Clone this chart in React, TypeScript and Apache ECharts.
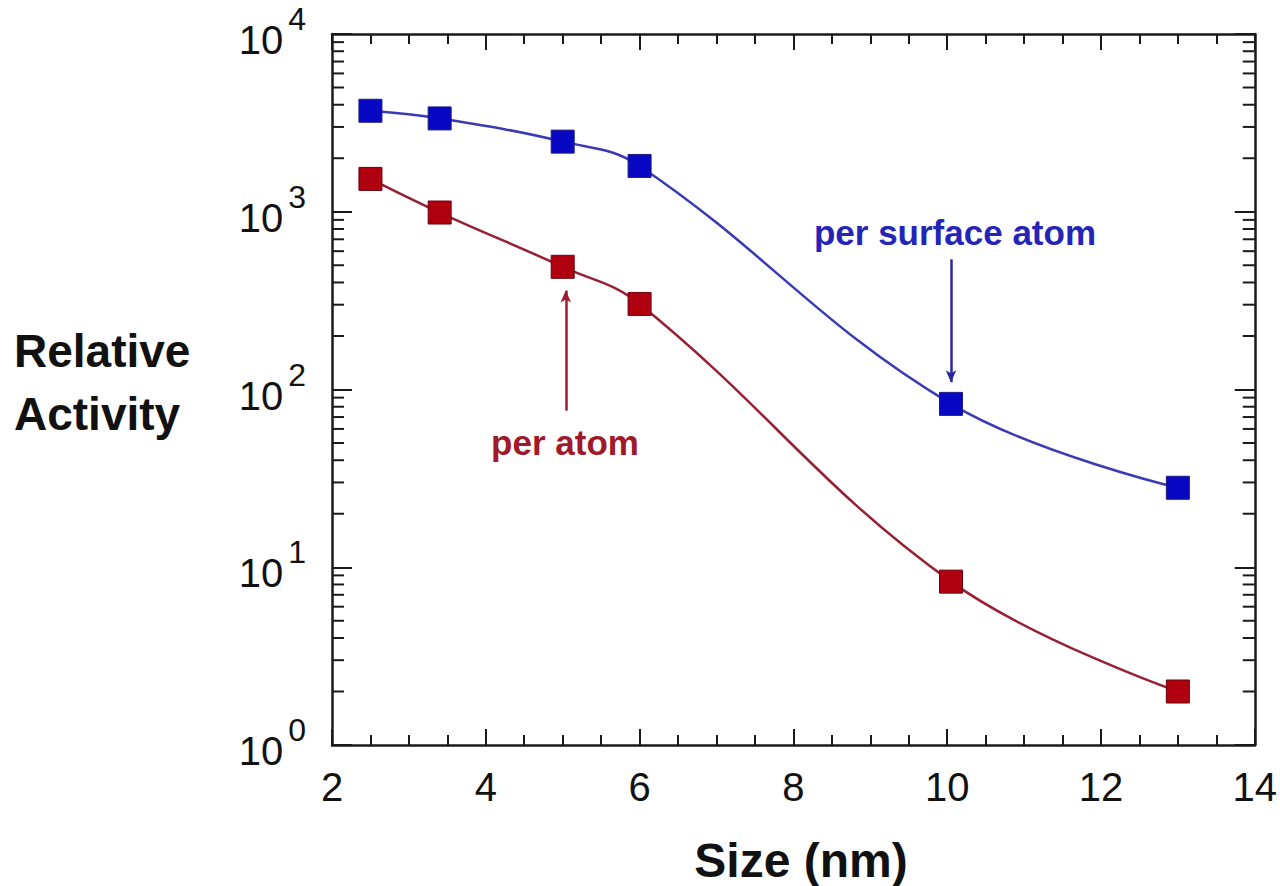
import React, { useEffect, useRef } from "react";
import * as echarts from "echarts";

// ---- data ----
const sizes = [2.5, 3.4, 5.0, 6.0, 10.05, 13.0];
const perSurfaceAtom = [3700, 3350, 2480, 1810, 83, 28];
const perAtom = [1530, 990, 490, 303, 8.3, 2.0];

const xTicks = [2, 4, 6, 8, 10, 12, 14];
const yDecades = [1, 10, 100, 1000, 10000];
const yMinorMultipliers = [2, 3, 4, 5, 6, 7, 8, 9];

// annotation arrows (data coordinates)
const surfaceArrow = [[10.05, 540], [10.05, 110]];
const atomArrow = [[5.04, 76], [5.04, 360]];

const FONT = "'Liberation Sans', Arial, Helvetica, sans-serif";

export default function App() {
  const ref = useRef<HTMLDivElement>(null);

  useEffect(() => {
    document.body.style.margin = "0";
    const chart = echarts.init(ref.current!, null, { renderer: "svg" });

    const minorTickValues: number[][] = [];
    for (let i = 0; i < yDecades.length - 1; i++) {
      for (const m of yMinorMultipliers) minorTickValues.push([xTicks[0], yDecades[i] * m]);
    }

    const axisLine = { show: true, lineStyle: { color: "#1a1a1a", width: 2.5 } };

    const option: any = {
      animation: false,
      backgroundColor: "#ffffff",
      grid: { left: 332, right: 23, top: 34, bottom: 141, containLabel: false },
      xAxis: [
        {
          type: "value",
          position: "bottom",
          min: xTicks[0],
          max: xTicks[xTicks.length - 1],
          interval: 2,
          axisLine,
          axisTick: { show: true, inside: true, length: 16, lineStyle: { color: "#1a1a1a", width: 2 } },
          minorTick: { show: true, splitNumber: 4, length: 10, lineStyle: { color: "#1a1a1a", width: 2 } },
          splitLine: { show: false },
          axisLabel: { show: true, margin: 22, fontSize: 40, color: "#111", fontFamily: FONT },
        },
        {
          type: "value",
          position: "top",
          min: xTicks[0],
          max: xTicks[xTicks.length - 1],
          interval: 2,
          axisLine,
          axisTick: { show: true, inside: true, length: 16, lineStyle: { color: "#1a1a1a", width: 2 } },
          minorTick: { show: true, splitNumber: 4, length: 10, lineStyle: { color: "#1a1a1a", width: 2 } },
          splitLine: { show: false },
          axisLabel: { show: false },
        },
      ],
      yAxis: [
        {
          type: "log",
          logBase: 10,
          position: "left",
          min: yDecades[0],
          max: yDecades[yDecades.length - 1],
          axisLine,
          axisTick: { show: true, inside: true, length: 20, lineStyle: { color: "#1a1a1a", width: 2 } },
          splitLine: { show: false },
          axisLabel: {
            show: true,
            margin: 26,
            formatter: (v: number) => `{b|10}{s|${Math.round(Math.log10(v))}}`,
            rich: {
              b: { fontSize: 40, color: "#111", fontFamily: FONT, padding: [12, 0, 0, 0] },
              s: { fontSize: 32, color: "#111", fontFamily: FONT, padding: [0, 0, 30, 5] },
            },
          },
        },
        {
          type: "log",
          logBase: 10,
          position: "right",
          min: yDecades[0],
          max: yDecades[yDecades.length - 1],
          axisLine,
          axisTick: { show: true, inside: true, length: 20, lineStyle: { color: "#1a1a1a", width: 2 } },
          splitLine: { show: false },
          axisLabel: { show: false },
        },
      ],
      graphic: [
        {
          type: "text",
          left: 114 - 100,
          top: 382 - 63,
          style: {
            text: "Relative\nActivity",
            font: `bold 46px ${FONT}`,
            fill: "#111",
            align: "center",
            lineHeight: 63,
            width: 200,
          },
        },
        {
          type: "text",
          x: 801,
          y: 860,
          style: {
            text: "Size (nm)",
            font: `bold 48px ${FONT}`,
            fill: "#111",
            align: "center",
            verticalAlign: "middle",
          },
        },
        {
          type: "text",
          x: 955,
          y: 232,
          style: {
            text: "per surface atom",
            font: `bold 35px ${FONT}`,
            fill: "#2424b8",
            align: "center",
            verticalAlign: "middle",
          },
        },
        {
          type: "text",
          x: 565,
          y: 442,
          style: {
            text: "per atom",
            font: `bold 35px ${FONT}`,
            fill: "#a01a2a",
            align: "center",
            verticalAlign: "middle",
          },
        },
      ],
      series: [
        {
          name: "per surface atom",
          type: "line",
          smooth: 0.4,
          data: sizes.map((x, i) => [x, perSurfaceAtom[i]]),
          symbol: "rect",
          symbolSize: 23,
          itemStyle: { color: "#0808c4", borderColor: "#1c1c80", borderWidth: 1 },
          lineStyle: { color: "#3a3ab4", width: 2.5 },
          markLine: {
            silent: true,
            symbol: ["none", "arrow"],
            symbolSize: [8, 12],
            label: { show: false },
            lineStyle: { color: "#2a2aa0", width: 2.5, type: "solid" },
            data: [[{ coord: surfaceArrow[0] }, { coord: surfaceArrow[1] }]],
          },
          z: 3,
        },
        {
          name: "per atom",
          type: "line",
          smooth: 0.4,
          data: sizes.map((x, i) => [x, perAtom[i]]),
          symbol: "rect",
          symbolSize: 23,
          itemStyle: { color: "#b0000f", borderColor: "#6a0010", borderWidth: 1 },
          lineStyle: { color: "#982034", width: 2.5 },
          markLine: {
            silent: true,
            symbol: ["none", "arrow"],
            symbolSize: [8, 12],
            label: { show: false },
            lineStyle: { color: "#a01a30", width: 2.5, type: "solid" },
            data: [[{ coord: atomArrow[0] }, { coord: atomArrow[1] }]],
          },
          z: 3,
        },
        {
          name: "minor ticks",
          type: "custom",
          silent: true,
          clip: false,
          data: minorTickValues,
          renderItem: (params: any, api: any) => {
            const cs = params.coordSys;
            const p = api.coord([api.value(0), api.value(1)]);
            const y = p[1];
            const len = 12;
            return {
              type: "group",
              children: [
                { type: "line", shape: { x1: cs.x, y1: y, x2: cs.x + len, y2: y }, style: { stroke: "#1a1a1a", lineWidth: 2 } },
                { type: "line", shape: { x1: cs.x + cs.width - len, y1: y, x2: cs.x + cs.width, y2: y }, style: { stroke: "#1a1a1a", lineWidth: 2 } },
              ],
            };
          },
          z: 1,
        },
      ],
    };

    chart.setOption(option);
    return () => chart.dispose();
  }, []);

  return <div ref={ref} style={{ position: "fixed", left: 0, top: 0, width: 1280, height: 886 }} />;
}
